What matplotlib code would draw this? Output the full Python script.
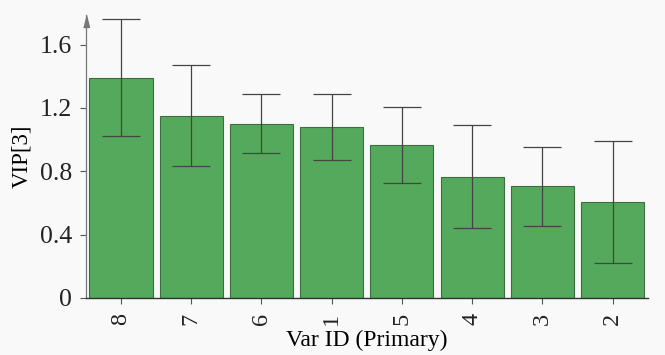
import matplotlib
matplotlib.use("Agg")
import matplotlib.pyplot as plt
import matplotlib.transforms as mtransforms
import numpy as np

# VIP scores per variable, sorted descending, with error bars
var_ids = ["8", "7", "6", "1", "5", "4", "3", "2"]
vip     = [1.39, 1.15, 1.10, 1.08, 0.965, 0.765, 0.705, 0.605]
vip_err = [0.37, 0.32, 0.185, 0.21, 0.24, 0.325, 0.25, 0.385]

plt.rcParams["font.family"] = ["Liberation Serif", "DejaVu Serif"]

fig = plt.figure(figsize=(6.65, 3.55), dpi=100, facecolor="#f9f9f9")
ax = fig.add_axes([0.129, 0.161, 0.845, 0.798])
ax.set_facecolor("#f9f9f9")

x = np.arange(len(var_ids))
ax.bar(x, vip, width=0.9, color="#55a95c", edgecolor="#3c6e40", linewidth=0.8, zorder=2)
ax.errorbar(x, vip, yerr=vip_err, fmt="none", ecolor="#444444", elinewidth=0.9,
            capsize=13.5, capthick=0.9, zorder=3)

ax.set_xlim(-0.5, len(var_ids) - 0.5)
ax.set_ylim(0, 1.79)
ax.set_yticks([0, 0.4, 0.8, 1.2, 1.6])
ax.set_yticklabels(["0", "0.4", "0.8", "1.2", "1.6"])
ax.set_xticks(x)
ax.set_xticklabels(var_ids, rotation=90)

ax.tick_params(axis="both", length=4, width=0.8, colors="#555555", labelcolor="#222222")
ax.tick_params(axis="y", labelsize=18.5, pad=6)
ax.tick_params(axis="x", labelsize=17.5, pad=7)

for side in ("top", "right"):
    ax.spines[side].set_visible(False)
ax.spines["left"].set_color("#777777")
ax.spines["left"].set_linewidth(0.9)
ax.spines["bottom"].set_color("#333333")
ax.spines["bottom"].set_linewidth(1.0)

# narrow arrow head on top of the y axis
arrow_tf = mtransforms.offset_copy(ax.transAxes, fig=fig, y=-6, units="dots")
ax.plot(0, 1, marker=[(-3, -6), (3, -6), (0, 6)], markersize=8.6, color="#777777",
        transform=arrow_tf, clip_on=False, zorder=4)

ax.set_ylabel("VIP[3]", fontsize=16.5, labelpad=5)
ax.set_xlabel("Var ID (Primary)", fontsize=17, labelpad=3)

fig.savefig("out.png", dpi=100, facecolor=fig.get_facecolor())
